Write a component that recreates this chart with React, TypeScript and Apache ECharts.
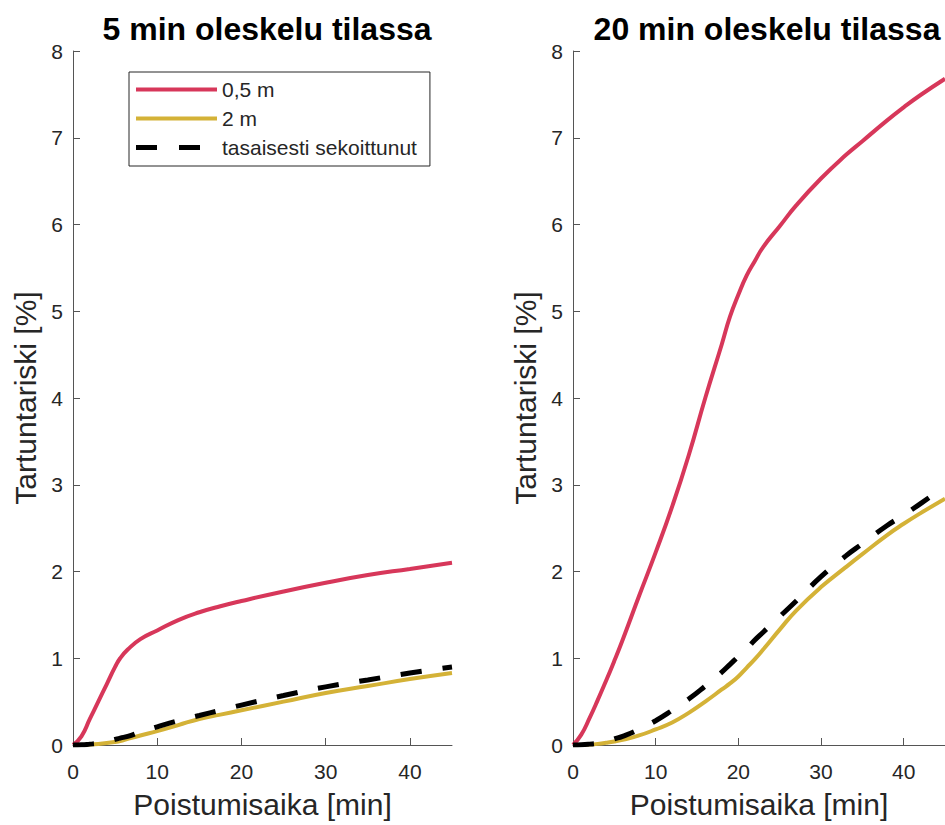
import React, { useEffect, useRef } from "react";
import * as echarts from "echarts";

const titles = ["5 min oleskelu tilassa", "20 min oleskelu tilassa"];
const seriesNames = ["0,5 m", "2 m", "tasaisesti sekoittunut"];
const xTicks = [0, 10, 20, 30, 40];

const leftX = [0, 1, 2, 3, 4, 5, 5.6, 6.5, 8, 10, 12.5, 15, 17.5, 20, 25, 30, 35, 40, 45];
const leftRed = [0, 0.1, 0.3, 0.5, 0.7, 0.9, 1.0, 1.1, 1.22, 1.32, 1.44, 1.53, 1.6, 1.66, 1.77, 1.87, 1.96, 2.03, 2.1];
const leftGold = [0, 0.001, 0.005, 0.012, 0.022, 0.035, 0.045, 0.07, 0.11, 0.16, 0.23, 0.3, 0.35, 0.4, 0.5, 0.6, 0.68, 0.76, 0.83];
const leftMixed = [0, 0.002, 0.01, 0.02, 0.04, 0.065, 0.08, 0.1, 0.15, 0.21, 0.28, 0.34, 0.4, 0.46, 0.57, 0.67, 0.75, 0.83, 0.9];

const rightX = [0, 1, 2, 3, 4, 5, 6, 8, 10, 12, 14, 16, 18, 19, 20, 21, 22, 23, 25, 27, 30, 33, 35, 38, 40, 42, 45];
const rightRed = [0, 0.12, 0.31, 0.52, 0.74, 0.97, 1.21, 1.72, 2.22, 2.75, 3.34, 4.0, 4.62, 4.94, 5.19, 5.41, 5.58, 5.74, 5.98, 6.22, 6.53, 6.8, 6.96, 7.2, 7.35, 7.49, 7.68];
const rightGold = [0, 0.001, 0.005, 0.013, 0.025, 0.04, 0.06, 0.11, 0.18, 0.26, 0.37, 0.5, 0.64, 0.71, 0.79, 0.89, 0.99, 1.1, 1.33, 1.55, 1.82, 2.05, 2.2, 2.42, 2.55, 2.67, 2.84];
const rightMixed = [0, 0.003, 0.01, 0.02, 0.04, 0.07, 0.1, 0.18, 0.28, 0.4, 0.53, 0.68, 0.84, 0.93, 1.02, 1.11, 1.21, 1.3, 1.48, 1.66, 1.94, 2.18, 2.32, 2.53, 2.65, 2.78, 2.98];

const FONT = "'Liberation Sans', Arial, Helvetica, sans-serif";
const TEXT = "#262626";
const AXIS = "#555555";
const RED = "#D7375A";
const GOLD = "#D4B237";

const ICON_SOLID = "path://M0,0H81V4H0Z";
const ICON_DASHED = "path://M0,0H21V5H0ZM43,0H64V5H43ZM81,0L81,5Z";

const pairs = (xs: number[], ys: number[]) => xs.map((x, i) => [x, ys[i]]);

export default function App() {
  const ref = useRef<HTMLDivElement>(null);
  useEffect(() => {
    if (!ref.current) return;
    const chart = echarts.init(ref.current, null, { renderer: "svg" });

    const grids = [
      { left: 73, top: 51, width: 379, height: 694 },
      { left: 573, top: 51, width: 379, height: 694 },
    ];
    const xAxis = grids.map((_, i) => ({
      type: "value",
      gridIndex: i,
      min: 0,
      max: 45,
      interval: 10,
      name: "Poistumisaika [min]",
      nameLocation: "middle",
      nameGap: 44,
      nameTextStyle: { fontFamily: FONT, fontSize: 30, color: TEXT },
      axisLine: { show: true, lineStyle: { color: AXIS, width: 1 } },
      axisTick: { show: true, inside: true, length: 7, lineStyle: { color: AXIS }, customValues: xTicks },
      axisLabel: { fontFamily: FONT, fontSize: 21, color: TEXT, margin: 16, customValues: xTicks },
      splitLine: { show: false },
    }));
    const yAxis = grids.map((_, i) => ({
      type: "value",
      gridIndex: i,
      min: 0,
      max: 8,
      interval: 1,
      name: "Tartuntariski [%]",
      nameLocation: "middle",
      nameGap: 33,
      nameTextStyle: { fontFamily: FONT, fontSize: 30, color: TEXT },
      axisLine: { show: true, lineStyle: { color: AXIS, width: 1 } },
      axisTick: { show: true, inside: true, length: 7, lineStyle: { color: AXIS } },
      axisLabel: { fontFamily: FONT, fontSize: 21, color: TEXT, margin: 10 },
      splitLine: { show: false },
    }));

    const mk = (name: string, idx: number, data: number[][], color: string, dashed: boolean) => ({
      type: "line",
      name,
      xAxisIndex: idx,
      yAxisIndex: idx,
      data,
      smooth: 0.5,
      symbol: "none",
      showSymbol: false,
      clip: true,
      z: dashed ? 3 : 2,
      lineStyle: { color, width: dashed ? 5 : 4, type: dashed ? [21, 21] : "solid", cap: "butt" },
      itemStyle: { color },
    });

    chart.setOption({
      animation: false,
      title: [
        { text: titles[0], left: 262, top: 8, textAlign: "center", textStyle: { fontFamily: FONT, fontSize: 32, fontWeight: "bold", color: "#000" } },
        { text: titles[1], left: 762, top: 8, textAlign: "center", textStyle: { fontFamily: FONT, fontSize: 32, fontWeight: "bold", color: "#000" } },
      ],
      legend: {
        left: 129,
        top: 72,
        orient: "vertical",
        data: [
          { name: seriesNames[0], icon: ICON_SOLID },
          { name: seriesNames[1], icon: ICON_SOLID },
          { name: seriesNames[2], icon: ICON_DASHED },
        ],
        padding: [7, 13, 8, 7],
        itemGap: 8,
        itemWidth: 81,
        itemHeight: 5,
        backgroundColor: "#fff",
        borderColor: "#262626",
        borderWidth: 1,
        borderRadius: 0,
        selectedMode: false,
        textStyle: { fontFamily: FONT, fontSize: 21, color: TEXT },
      },
      grid: grids,
      xAxis,
      yAxis,
      series: [
        mk(seriesNames[0], 0, pairs(leftX, leftRed), RED, false),
        mk(seriesNames[1], 0, pairs(leftX, leftGold), GOLD, false),
        mk(seriesNames[2], 0, pairs(leftX, leftMixed), "#000", true),
        mk(seriesNames[0], 1, pairs(rightX, rightRed), RED, false),
        mk(seriesNames[1], 1, pairs(rightX, rightGold), GOLD, false),
        mk(seriesNames[2], 1, pairs(rightX, rightMixed), "#000", true),
      ],
    });
    return () => chart.dispose();
  }, []);
  return (
    <div
      ref={ref}
      style={{ position: "fixed", left: 0, top: 0, width: 945, height: 825, background: "#fff" }}
    />
  );
}
